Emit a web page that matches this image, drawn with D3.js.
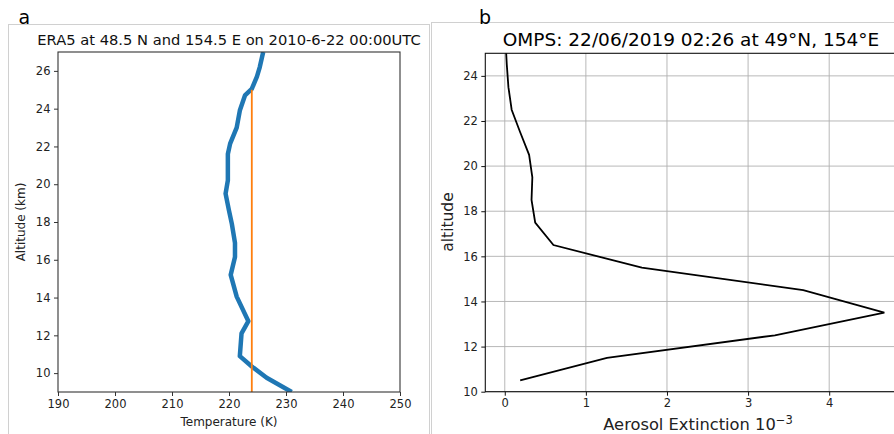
<!DOCTYPE html>
<html>
<head>
<meta charset="utf-8">
<script src="https://cdn.jsdelivr.net/npm/d3@7"></script>
<style>
  body { margin: 0; background: #fff; }
  svg { display: block; font-family: "DejaVu Sans", sans-serif; }
</style>
</head>
<body>
<div class="main"></div>
<script>
// panel a: ERA5 temperature profile (altitude km, temperature K)
const era5Alt  = [27.0, 26.2, 25.7, 25.05, 24.7, 23.9, 23.0, 22.15, 21.6, 20.2, 19.5, 18.6, 17.9, 16.9, 16.15, 15.2, 14.05, 12.75, 12.1, 10.9, 10.35, 9.75, 9.0]
const era5Temp = [226.0, 225.4, 224.9, 224.0, 222.8, 221.9, 221.35, 220.2, 219.8, 219.8, 219.4, 220.0, 220.5, 221.05, 221.05, 220.3, 221.35, 223.4, 222.2, 221.9, 224.0, 226.6, 231.0]
const tropoTemp = 224          // orange reference line
const tropoAlt = [9, 25]
const aXTicks = [190, 200, 210, 220, 230, 240, 250]
const aYTicks = [10, 12, 14, 16, 18, 20, 22, 24, 26]

// panel b: OMPS aerosol extinction profile
const ompsAlt = [10.5, 11.5, 12.5, 13.5, 14.5, 15.5, 16.5, 17.5, 18.5, 19.5, 20.5, 21.5, 22.5, 23.5, 24.5, 25.5]
const ompsExt = [0.19, 1.26, 3.33, 4.68, 3.68, 1.69, 0.60, 0.375, 0.33, 0.34, 0.30, 0.19, 0.085, 0.045, 0.025, 0.01]
const bXTicks = [0, 1, 2, 3, 4]
const bYTicks = [10, 12, 14, 16, 18, 20, 22, 24]

const W = 894, H = 434

const svg = d3.select(".main")
    .append("svg")
    .attr("width", W)
    .attr("height", H)

// panel frames
svg.append("rect").attr("x", 8.5).attr("y", 24.5).attr("width", 421).attr("height", 430)
    .attr("fill", "none").attr("stroke", "#d0d0d0")
svg.append("rect").attr("x", 431.5).attr("y", 22.5).attr("width", 500).attr("height", 430)
    .attr("fill", "none").attr("stroke", "#d0d0d0")

svg.append("text").attr("x", 18.5).attr("y", 24).attr("font-size", 19).text("a")
svg.append("text").attr("x", 479).attr("y", 24).attr("font-size", 19).text("b")

function drawAxes(g, x, y, xTicks, yTicks, opts) {
    const [x0, x1] = x.range(), [y0, y1] = y.range()
    if (opts.grid) {
        g.append("g").selectAll("line").data(xTicks).join("line")
            .attr("x1", d => x(d)).attr("x2", d => x(d)).attr("y1", y0).attr("y2", y1)
            .attr("stroke", "#b0b0b0").attr("stroke-width", 0.9)
        g.append("g").selectAll("line").data(yTicks).join("line")
            .attr("y1", d => y(d)).attr("y2", d => y(d)).attr("x1", x0).attr("x2", x1)
            .attr("stroke", "#b0b0b0").attr("stroke-width", 0.9)
    }
    const xa = g.append("g").attr("transform", `translate(0,${y0})`)
        .call(d3.axisBottom(x).tickValues(xTicks).tickSize(4).tickPadding(3.5).tickFormat(d3.format("d")))
    const ya = g.append("g").attr("transform", `translate(${x0},0)`)
        .call(d3.axisLeft(y).tickValues(yTicks).tickSize(4).tickPadding(3.5).tickFormat(d3.format("d")))
    for (const a of [xa, ya]) {
        a.select(".domain").remove()
        a.attr("font-family", null).attr("font-size", null)
        a.selectAll("text").attr("font-size", 11.5).attr("fill", "#222")
        a.selectAll("line").attr("stroke", opts.spine)
    }
    g.append("rect").attr("x", x0).attr("y", y1).attr("width", x1 - x0).attr("height", y0 - y1)
        .attr("fill", "none").attr("stroke", opts.spine).attr("stroke-width", 1.1)
}

// ---- panel a
const xa = d3.scaleLinear().domain([190, 250]).range([58, 400])
const ya = d3.scaleLinear().domain([9, 27]).range([392, 52])
const ga = svg.append("g")
svg.append("clipPath").attr("id", "clipA").append("rect")
    .attr("x", 58).attr("y", 52).attr("width", 342).attr("height", 340)

ga.append("path")
    .datum(era5Alt.map((a, i) => [era5Temp[i], a]))
    .attr("clip-path", "url(#clipA)")
    .attr("d", d3.line().x(d => xa(d[0])).y(d => ya(d[1])))
    .attr("fill", "none").attr("stroke", "#1f77b4").attr("stroke-width", 4.5)
    .attr("stroke-linejoin", "round")
ga.append("line")
    .attr("x1", xa(tropoTemp)).attr("x2", xa(tropoTemp))
    .attr("y1", ya(tropoAlt[0])).attr("y2", ya(tropoAlt[1]))
    .attr("stroke", "#ff7f0e").attr("stroke-width", 1.8)
drawAxes(ga, xa, ya, aXTicks, aYTicks, { grid: false, spine: "#333" })

ga.append("text").attr("x", 229).attr("y", 45).attr("text-anchor", "middle")
    .attr("font-size", 14.7).attr("fill", "#111").text("ERA5 at 48.5 N and 154.5 E on 2010-6-22 00:00UTC")
ga.append("text").attr("x", 229).attr("y", 426).attr("text-anchor", "middle")
    .attr("font-size", 12).attr("fill", "#222").text("Temperature (K)")
ga.append("text").attr("transform", "translate(25,222) rotate(-90)").attr("text-anchor", "middle")
    .attr("font-size", 12).attr("fill", "#222").text("Altitude (km)")

// ---- panel b
const xb = d3.scaleLinear().domain([-0.24, 4.91]).range([485.3, 903])
const yb = d3.scaleLinear().domain([10, 25]).range([391.7, 53.3])
const gb = svg.append("g")
drawAxes(gb, xb, yb, bXTicks, bYTicks, { grid: true, spine: "#111" })
gb.append("path")
    .datum(ompsAlt.map((a, i) => [ompsExt[i], a]))
    .attr("clip-path", "url(#clipB)")
    .attr("d", d3.line().x(d => xb(d[0])).y(d => yb(d[1])))
    .attr("fill", "none").attr("stroke", "#000").attr("stroke-width", 1.8)
svg.append("clipPath").attr("id", "clipB").append("rect")
    .attr("x", 485.3).attr("y", 53.3).attr("width", 420).attr("height", 338.4)

gb.append("text").attr("x", 691).attr("y", 46).attr("text-anchor", "middle")
    .attr("font-size", 18.5).attr("fill", "#000").text("OMPS: 22/06/2019 02:26 at 49°N, 154°E")
const xl = gb.append("text").attr("x", 698).attr("y", 430).attr("text-anchor", "middle")
    .attr("font-size", 16.3).attr("fill", "#222")
xl.append("tspan").text("Aerosol Extinction 10")
xl.append("tspan").attr("dy", -6.5).attr("font-size", 11.5).text("−3")
gb.append("text").attr("transform", "translate(453,222) rotate(-90)").attr("text-anchor", "middle")
    .attr("font-size", 15.5).attr("fill", "#222").text("altitude")
</script>
</body>
</html>
